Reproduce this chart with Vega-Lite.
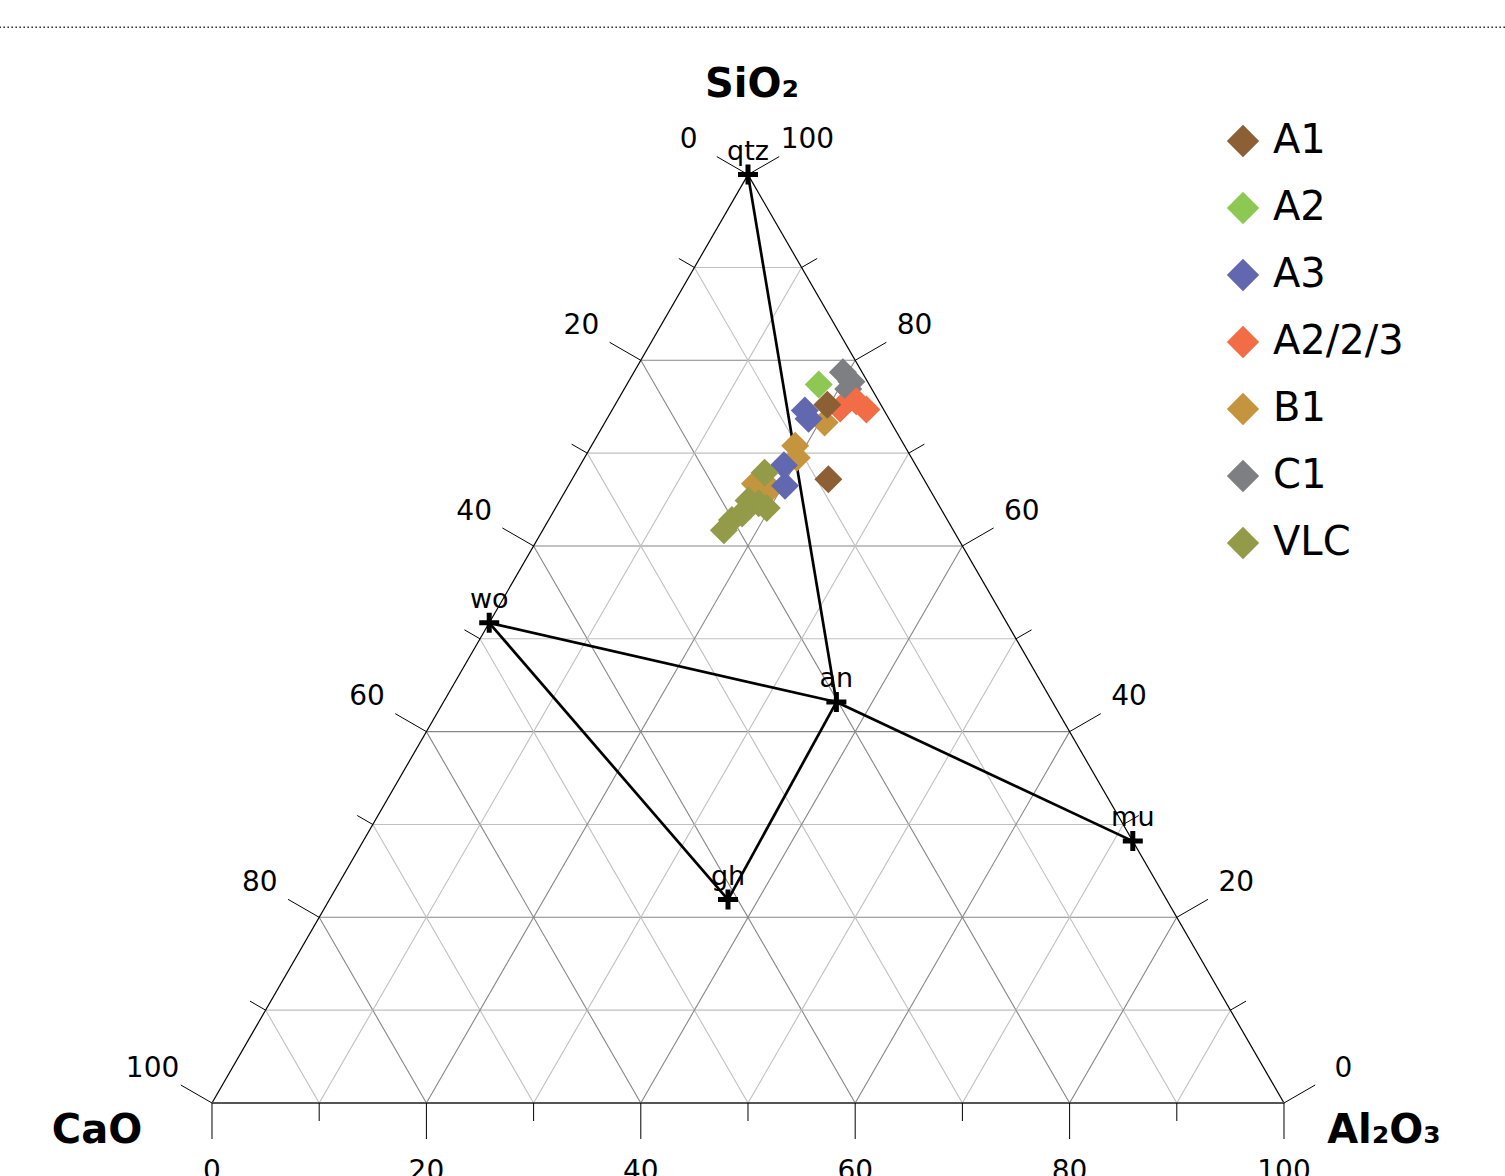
{
  "$schema": "https://vega.github.io/schema/vega-lite/v6.json",
  "width": 1505,
  "height": 1176,
  "autosize": {"type": "none"},
  "padding": 0,
  "background": "white",
  "config": {"view": {"stroke": null}, "font": "DejaVu Sans"},
  "datasets": {
    "samples": [
      {"group": "C1", "SiO2": 78.7, "Al2O3": 19.5, "CaO": 1.8},
      {"group": "C1", "SiO2": 77.7, "Al2O3": 20.8, "CaO": 1.5},
      {"group": "C1", "SiO2": 76.9, "Al2O3": 20.9, "CaO": 2.2},
      {"group": "A2/2/3", "SiO2": 74.8, "Al2O3": 21.2, "CaO": 4.0},
      {"group": "A2/2/3", "SiO2": 75.6, "Al2O3": 22.3, "CaO": 2.1},
      {"group": "A2/2/3", "SiO2": 74.7, "Al2O3": 23.7, "CaO": 1.6},
      {"group": "B1", "SiO2": 73.3, "Al2O3": 20.5, "CaO": 6.2},
      {"group": "B1", "SiO2": 70.8, "Al2O3": 19.0, "CaO": 10.2},
      {"group": "B1", "SiO2": 69.5, "Al2O3": 19.8, "CaO": 10.7},
      {"group": "B1", "SiO2": 66.7, "Al2O3": 17.3, "CaO": 16.0},
      {"group": "B1", "SiO2": 66.2, "Al2O3": 19.0, "CaO": 14.8},
      {"group": "A3", "SiO2": 74.6, "Al2O3": 18.0, "CaO": 7.4},
      {"group": "A3", "SiO2": 73.7, "Al2O3": 18.8, "CaO": 7.5},
      {"group": "A3", "SiO2": 68.7, "Al2O3": 19.0, "CaO": 12.3},
      {"group": "A3", "SiO2": 66.5, "Al2O3": 20.2, "CaO": 13.3},
      {"group": "A1", "SiO2": 75.2, "Al2O3": 19.8, "CaO": 5.0},
      {"group": "A1", "SiO2": 67.2, "Al2O3": 23.9, "CaO": 8.9},
      {"group": "A2", "SiO2": 77.4, "Al2O3": 17.9, "CaO": 4.7},
      {"group": "VLC", "SiO2": 67.9, "Al2O3": 17.6, "CaO": 14.5},
      {"group": "VLC", "SiO2": 64.9, "Al2O3": 17.6, "CaO": 17.5},
      {"group": "VLC", "SiO2": 64.6, "Al2O3": 18.7, "CaO": 16.7},
      {"group": "VLC", "SiO2": 64.1, "Al2O3": 19.7, "CaO": 16.2},
      {"group": "VLC", "SiO2": 63.5, "Al2O3": 17.7, "CaO": 18.8},
      {"group": "VLC", "SiO2": 62.8, "Al2O3": 17.1, "CaO": 20.1},
      {"group": "VLC", "SiO2": 61.7, "Al2O3": 16.9, "CaO": 21.4}
    ],
    "minerals": [
      {"mineral": "qtz", "SiO2": 100, "Al2O3": 0, "CaO": 0},
      {"mineral": "wo", "SiO2": 51.72, "Al2O3": 0, "CaO": 48.28},
      {"mineral": "an", "SiO2": 43.19, "Al2O3": 36.65, "CaO": 20.16},
      {"mineral": "gh", "SiO2": 21.91, "Al2O3": 37.18, "CaO": 40.91},
      {"mineral": "mu", "SiO2": 28.21, "Al2O3": 71.79, "CaO": 0}
    ],
    "tielines": [
      {"pair": "qtz-an", "si1": 100, "al1": 0, "si2": 43.19, "al2": 36.65},
      {"pair": "wo-an", "si1": 51.72, "al1": 0, "si2": 43.19, "al2": 36.65},
      {"pair": "an-mu", "si1": 43.19, "al1": 36.65, "si2": 28.21, "al2": 71.79},
      {"pair": "wo-gh", "si1": 51.72, "al1": 0, "si2": 21.91, "al2": 37.18},
      {"pair": "gh-an", "si1": 21.91, "al1": 37.18, "si2": 43.19, "al2": 36.65}
    ],
    "edges": [
      {"edge": "left", "si1": 100, "al1": 0, "si2": 0, "al2": 0},
      {"edge": "right", "si1": 100, "al1": 0, "si2": 0, "al2": 100},
      {"edge": "bottom", "si1": 0, "al1": 0, "si2": 0, "al2": 100}
    ],
    "grid": [
      {"oxide": "SiO2", "v": 10}, {"oxide": "SiO2", "v": 20}, {"oxide": "SiO2", "v": 30},
      {"oxide": "SiO2", "v": 40}, {"oxide": "SiO2", "v": 50}, {"oxide": "SiO2", "v": 60},
      {"oxide": "SiO2", "v": 70}, {"oxide": "SiO2", "v": 80}, {"oxide": "SiO2", "v": 90},
      {"oxide": "CaO", "v": 10}, {"oxide": "CaO", "v": 20}, {"oxide": "CaO", "v": 30},
      {"oxide": "CaO", "v": 40}, {"oxide": "CaO", "v": 50}, {"oxide": "CaO", "v": 60},
      {"oxide": "CaO", "v": 70}, {"oxide": "CaO", "v": 80}, {"oxide": "CaO", "v": 90},
      {"oxide": "Al2O3", "v": 10}, {"oxide": "Al2O3", "v": 20}, {"oxide": "Al2O3", "v": 30},
      {"oxide": "Al2O3", "v": 40}, {"oxide": "Al2O3", "v": 50}, {"oxide": "Al2O3", "v": 60},
      {"oxide": "Al2O3", "v": 70}, {"oxide": "Al2O3", "v": 80}, {"oxide": "Al2O3", "v": 90}
    ],
    "ticks": [
      {"oxide": "CaO", "v": 0}, {"oxide": "CaO", "v": 10}, {"oxide": "CaO", "v": 20},
      {"oxide": "CaO", "v": 30}, {"oxide": "CaO", "v": 40}, {"oxide": "CaO", "v": 50},
      {"oxide": "CaO", "v": 60}, {"oxide": "CaO", "v": 70}, {"oxide": "CaO", "v": 80},
      {"oxide": "CaO", "v": 90}, {"oxide": "CaO", "v": 100},
      {"oxide": "SiO2", "v": 0}, {"oxide": "SiO2", "v": 10}, {"oxide": "SiO2", "v": 20},
      {"oxide": "SiO2", "v": 30}, {"oxide": "SiO2", "v": 40}, {"oxide": "SiO2", "v": 50},
      {"oxide": "SiO2", "v": 60}, {"oxide": "SiO2", "v": 70}, {"oxide": "SiO2", "v": 80},
      {"oxide": "SiO2", "v": 90}, {"oxide": "SiO2", "v": 100},
      {"oxide": "Al2O3", "v": 0}, {"oxide": "Al2O3", "v": 10}, {"oxide": "Al2O3", "v": 20},
      {"oxide": "Al2O3", "v": 30}, {"oxide": "Al2O3", "v": 40}, {"oxide": "Al2O3", "v": 50},
      {"oxide": "Al2O3", "v": 60}, {"oxide": "Al2O3", "v": 70}, {"oxide": "Al2O3", "v": 80},
      {"oxide": "Al2O3", "v": 90}, {"oxide": "Al2O3", "v": 100}
    ],
    "vertices": [
      {"oxide": "SiO₂", "SiO2": 100, "Al2O3": 0},
      {"oxide": "CaO", "SiO2": 0, "Al2O3": 0},
      {"oxide": "Al₂O₃", "SiO2": 0, "Al2O3": 100}
    ]
  },
  "layer": [
    {
      "data": {"values": [{"border": "top"}]},
      "mark": {"type": "rule", "stroke": "#333333", "strokeWidth": 1.6, "strokeDash": [1.6, 2.4]},
      "encoding": {
        "y": {"datum": 100.35, "type": "quantitative", "scale": {"domain": [-6.81, 102.892], "nice": false, "zero": false}, "axis": null}
      }
    },
    {
      "data": {"name": "grid"},
      "transform": [
        {"calculate": "datum.oxide == 'SiO2' ? datum.v / 2 : datum.oxide == 'CaO' ? (100 - datum.v) / 2 : datum.v", "as": "x"},
        {"calculate": "datum.oxide == 'SiO2' ? datum.v * 0.8660254 : datum.oxide == 'CaO' ? (100 - datum.v) * 0.8660254 : 0", "as": "y"},
        {"calculate": "datum.oxide == 'SiO2' ? 100 - datum.v / 2 : datum.oxide == 'CaO' ? 100 - datum.v : (100 + datum.v) / 2", "as": "x2"},
        {"calculate": "datum.oxide == 'SiO2' ? datum.v * 0.8660254 : datum.oxide == 'CaO' ? 0 : (100 - datum.v) * 0.8660254", "as": "y2"}
      ],
      "mark": {"type": "rule", "strokeWidth": 1.1},
      "encoding": {
        "x": {"field": "x", "type": "quantitative", "scale": {"domain": [-19.776, 120.616], "nice": false, "zero": false}, "axis": null},
        "y": {"field": "y", "type": "quantitative", "scale": {"domain": [-6.81, 102.892], "nice": false, "zero": false}, "axis": null},
        "x2": {"field": "x2"},
        "y2": {"field": "y2"},
        "stroke": {"condition": {"test": "datum.v % 20 == 0", "value": "#868686"}, "value": "#c0c0c0"}
      }
    },
    {
      "data": {"name": "edges"},
      "transform": [
        {"calculate": "datum.al1 + datum.si1 / 2", "as": "x"},
        {"calculate": "datum.si1 * 0.8660254", "as": "y"},
        {"calculate": "datum.al2 + datum.si2 / 2", "as": "x2"},
        {"calculate": "datum.si2 * 0.8660254", "as": "y2"}
      ],
      "mark": {"type": "rule"},
      "encoding": {
        "x": {"field": "x", "type": "quantitative", "scale": {"domain": [-19.776, 120.616], "nice": false, "zero": false}, "axis": null},
        "y": {"field": "y", "type": "quantitative", "scale": {"domain": [-6.81, 102.892], "nice": false, "zero": false}, "axis": null},
        "x2": {"field": "x2"},
        "y2": {"field": "y2"},
        "stroke": {"condition": {"test": "datum.edge == 'bottom'", "value": "#555555"}, "value": "#000000"},
        "strokeWidth": {"condition": {"test": "datum.edge == 'bottom'", "value": 2.2}, "value": 1.2}
      }
    },
    {
      "data": {"name": "ticks"},
      "transform": [
        {"calculate": "datum.oxide == 'CaO' ? (100 - datum.v) / 2 : datum.oxide == 'SiO2' ? 100 - datum.v / 2 : datum.v", "as": "x"},
        {"calculate": "datum.oxide == 'CaO' ? (100 - datum.v) * 0.8660254 : datum.oxide == 'SiO2' ? datum.v * 0.8660254 : 0", "as": "y"},
        {"calculate": "datum.oxide == 'CaO' ? -0.8660254 : datum.oxide == 'SiO2' ? 0.8660254 : 0", "as": "ux"},
        {"calculate": "datum.oxide == 'Al2O3' ? -1 : 0.5", "as": "uy"},
        {"calculate": "datum.v % 20 == 0 ? 3.36 : 1.68", "as": "len"},
        {"calculate": "datum.x + datum.ux * datum.len", "as": "x2"},
        {"calculate": "datum.y + datum.uy * datum.len", "as": "y2"}
      ],
      "mark": {"type": "rule", "stroke": "#000000", "strokeWidth": 1},
      "encoding": {
        "x": {"field": "x", "type": "quantitative", "scale": {"domain": [-19.776, 120.616], "nice": false, "zero": false}, "axis": null},
        "y": {"field": "y", "type": "quantitative", "scale": {"domain": [-6.81, 102.892], "nice": false, "zero": false}, "axis": null},
        "x2": {"field": "x2"},
        "y2": {"field": "y2"}
      }
    },
    {
      "data": {"name": "ticks"},
      "transform": [
        {"filter": "datum.v % 20 == 0"},
        {"calculate": "datum.oxide == 'CaO' ? (100 - datum.v) / 2 : datum.oxide == 'SiO2' ? 100 - datum.v / 2 : datum.v", "as": "x0"},
        {"calculate": "datum.oxide == 'CaO' ? (100 - datum.v) * 0.8660254 : datum.oxide == 'SiO2' ? datum.v * 0.8660254 : 0", "as": "y0"},
        {"calculate": "datum.x0 + (datum.oxide == 'CaO' ? -0.8660254 : datum.oxide == 'SiO2' ? 0.8660254 : 0) * 6.4", "as": "x"},
        {"calculate": "datum.y0 + (datum.oxide == 'Al2O3' ? -1 : 0.5) * 6.4", "as": "y"}
      ],
      "mark": {"type": "text", "fontSize": 28, "font": "DejaVu Sans", "align": "center", "baseline": "middle", "color": "#000000"},
      "encoding": {
        "x": {"field": "x", "type": "quantitative", "scale": {"domain": [-19.776, 120.616], "nice": false, "zero": false}, "axis": null},
        "y": {"field": "y", "type": "quantitative", "scale": {"domain": [-6.81, 102.892], "nice": false, "zero": false}, "axis": null},
        "text": {"field": "v", "type": "quantitative", "format": "d"}
      }
    },
    {
      "data": {"name": "tielines"},
      "transform": [
        {"calculate": "datum.al1 + datum.si1 / 2", "as": "x"},
        {"calculate": "datum.si1 * 0.8660254", "as": "y"},
        {"calculate": "datum.al2 + datum.si2 / 2", "as": "x2"},
        {"calculate": "datum.si2 * 0.8660254", "as": "y2"}
      ],
      "mark": {"type": "rule", "stroke": "#000000", "strokeWidth": 2.7},
      "encoding": {
        "x": {"field": "x", "type": "quantitative", "scale": {"domain": [-19.776, 120.616], "nice": false, "zero": false}, "axis": null},
        "y": {"field": "y", "type": "quantitative", "scale": {"domain": [-6.81, 102.892], "nice": false, "zero": false}, "axis": null},
        "x2": {"field": "x2"},
        "y2": {"field": "y2"}
      }
    },
    {
      "data": {"name": "minerals"},
      "transform": [
        {"calculate": "datum.Al2O3 + datum.SiO2 / 2", "as": "x"},
        {"calculate": "datum.SiO2 * 0.8660254", "as": "y"}
      ],
      "mark": {"type": "point", "shape": "M-1,0L1,0M0,-1L0,1", "filled": false, "color": "#000000", "strokeWidth": 5, "size": 400, "opacity": 1},
      "encoding": {
        "x": {"field": "x", "type": "quantitative", "scale": {"domain": [-19.776, 120.616], "nice": false, "zero": false}, "axis": null},
        "y": {"field": "y", "type": "quantitative", "scale": {"domain": [-6.81, 102.892], "nice": false, "zero": false}, "axis": null}
      }
    },
    {
      "data": {"name": "minerals"},
      "transform": [
        {"calculate": "datum.Al2O3 + datum.SiO2 / 2", "as": "x"},
        {"calculate": "datum.SiO2 * 0.8660254", "as": "y"}
      ],
      "mark": {"type": "text", "fontSize": 27, "font": "DejaVu Sans", "align": "center", "baseline": "alphabetic", "dy": -15, "color": "#000000"},
      "encoding": {
        "x": {"field": "x", "type": "quantitative", "scale": {"domain": [-19.776, 120.616], "nice": false, "zero": false}, "axis": null},
        "y": {"field": "y", "type": "quantitative", "scale": {"domain": [-6.81, 102.892], "nice": false, "zero": false}, "axis": null},
        "text": {"field": "mineral", "type": "nominal"}
      }
    },
    {
      "data": {"name": "samples"},
      "transform": [
        {"calculate": "datum.Al2O3 + datum.SiO2 / 2", "as": "x"},
        {"calculate": "datum.SiO2 * 0.8660254", "as": "y"}
      ],
      "mark": {"type": "point", "shape": "diamond", "filled": true, "size": 784, "opacity": 1, "strokeWidth": 0},
      "encoding": {
        "x": {"field": "x", "type": "quantitative", "scale": {"domain": [-19.776, 120.616], "nice": false, "zero": false}, "axis": null},
        "y": {"field": "y", "type": "quantitative", "scale": {"domain": [-6.81, 102.892], "nice": false, "zero": false}, "axis": null},
        "color": {
          "field": "group", "type": "nominal",
          "scale": {
            "domain": ["A1", "A2", "A3", "A2/2/3", "B1", "C1", "VLC"],
            "range": ["#8c5f35", "#8dc853", "#6168b0", "#f26c45", "#c4953e", "#7e7f83", "#939a48"]
          },
          "legend": {
            "orient": "none", "legendX": 1223, "legendY": 121, "title": null,
            "symbolType": "diamond", "symbolSize": 1050, "symbolStrokeWidth": 0, "symbolOpacity": 1,
            "labelFontSize": 40, "labelFont": "DejaVu Sans", "labelColor": "#000000",
            "labelOffset": 10, "rowPadding": 27, "padding": 0, "labelLimit": 400
          }
        }
      }
    },
    {
      "data": {"name": "vertices"},
      "transform": [
        {"filter": "datum.oxide == 'SiO₂'"},
        {"calculate": "datum.Al2O3 + datum.SiO2 / 2", "as": "x"},
        {"calculate": "datum.SiO2 * 0.8660254", "as": "y"}
      ],
      "mark": {"type": "text", "fontSize": 40, "fontWeight": "bold", "font": "DejaVu Sans", "align": "center", "baseline": "alphabetic", "dx": 4, "dy": -78, "color": "#000000"},
      "encoding": {
        "x": {"field": "x", "type": "quantitative", "scale": {"domain": [-19.776, 120.616], "nice": false, "zero": false}, "axis": null},
        "y": {"field": "y", "type": "quantitative", "scale": {"domain": [-6.81, 102.892], "nice": false, "zero": false}, "axis": null},
        "text": {"field": "oxide", "type": "nominal"}
      }
    },
    {
      "data": {"name": "vertices"},
      "transform": [
        {"filter": "datum.oxide == 'CaO'"},
        {"calculate": "datum.Al2O3 + datum.SiO2 / 2", "as": "x"},
        {"calculate": "datum.SiO2 * 0.8660254", "as": "y"}
      ],
      "mark": {"type": "text", "fontSize": 40, "fontWeight": "bold", "font": "DejaVu Sans", "align": "center", "baseline": "alphabetic", "dx": -115, "dy": 40, "color": "#000000"},
      "encoding": {
        "x": {"field": "x", "type": "quantitative", "scale": {"domain": [-19.776, 120.616], "nice": false, "zero": false}, "axis": null},
        "y": {"field": "y", "type": "quantitative", "scale": {"domain": [-6.81, 102.892], "nice": false, "zero": false}, "axis": null},
        "text": {"field": "oxide", "type": "nominal"}
      }
    },
    {
      "data": {"name": "vertices"},
      "transform": [
        {"filter": "datum.oxide == 'Al₂O₃'"},
        {"calculate": "datum.Al2O3 + datum.SiO2 / 2", "as": "x"},
        {"calculate": "datum.SiO2 * 0.8660254", "as": "y"}
      ],
      "mark": {"type": "text", "fontSize": 40, "fontWeight": "bold", "font": "DejaVu Sans", "align": "center", "baseline": "alphabetic", "dx": 100, "dy": 40, "color": "#000000"},
      "encoding": {
        "x": {"field": "x", "type": "quantitative", "scale": {"domain": [-19.776, 120.616], "nice": false, "zero": false}, "axis": null},
        "y": {"field": "y", "type": "quantitative", "scale": {"domain": [-6.81, 102.892], "nice": false, "zero": false}, "axis": null},
        "text": {"field": "oxide", "type": "nominal"}
      }
    }
  ]
}
